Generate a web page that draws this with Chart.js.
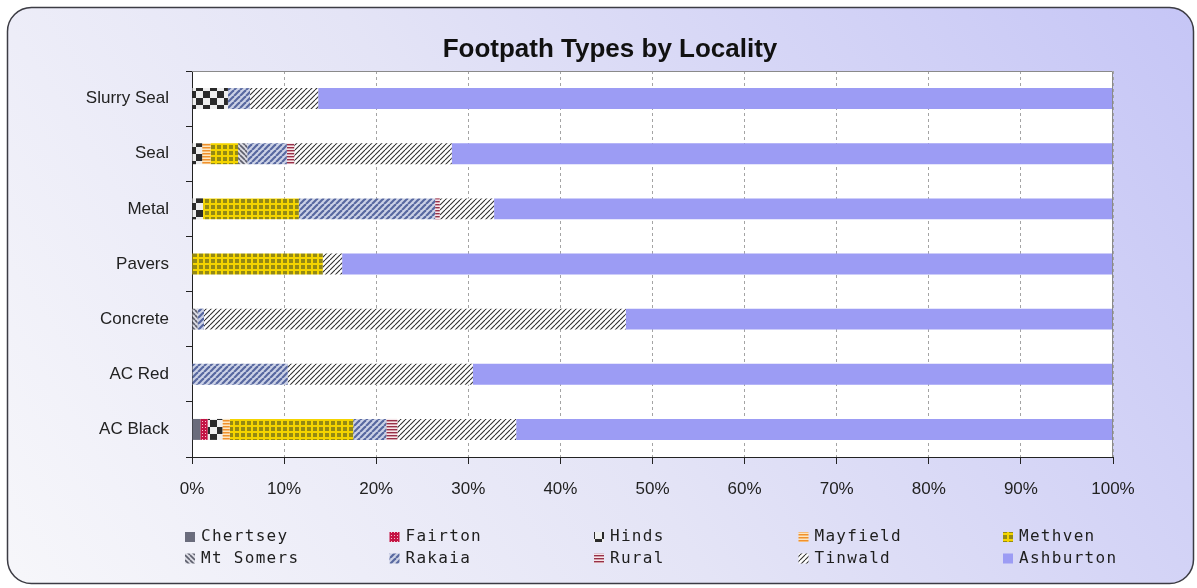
<!DOCTYPE html>
<html>
<head>
<meta charset="utf-8">
<title>Footpath Types by Locality</title>
<script src="https://cdn.jsdelivr.net/npm/chart.js@4.4.1/dist/chart.umd.min.js"></script>
<style>
  html, body { margin: 0; padding: 0; background: #ffffff; }
  #wrap { width: 1197px; height: 588px; position: relative; }
</style>
</head>
<body>
<div id="wrap"><canvas id="chart"></canvas></div>
<script>
// Footpath surface types, share (%) of length by locality
const categories = ['Slurry Seal', 'Seal', 'Metal', 'Pavers', 'Concrete', 'AC Red', 'AC Black'];
const seriesNames = ['Chertsey', 'Fairton', 'Hinds', 'Mayfield', 'Methven', 'Mt Somers', 'Rakaia', 'Rural', 'Tinwald', 'Ashburton'];

const chertsey  = [0,    0,    0,    0,    0,    0,    0.9];
const fairton   = [0,    0,    0,    0,    0,    0,    0.8];
const hinds     = [3.9,  1.1,  1.2,  0,    0,    0,    1.6];
const mayfield  = [0,    0.9,  0,    0,    0,    0,    0.8];
const methven   = [0,    3.0,  10.4, 14.2, 0,    0,    13.4];
const mtSomers  = [0,    1.0,  0,    0,    0.6,  0,    0];
const rakaia    = [2.4,  4.3,  14.8, 0,    0.7,  10.4, 3.6];
const rural     = [0,    0.8,  0.5,  0,    0,    0,    1.2];
const tinwald   = [7.4,  17.1, 5.9,  2.1,  45.8, 20.1, 12.9];
const ashburton = [86.3, 71.8, 67.2, 83.7, 52.9, 69.5, 64.8];

const xTicks = [0, 10, 20, 30, 40, 50, 60, 70, 80, 90, 100];

// ---- fill patterns -------------------------------------------------------
function tile(w, h, paint) {
  const c = document.createElement('canvas');
  c.width = w; c.height = h;
  const g = c.getContext('2d');
  paint(g, w, h);
  return g.createPattern(c, 'repeat');
}
function diag(g, w, h, color, width, back) {
  g.strokeStyle = color; g.lineWidth = width;
  for (let k = -1; k <= 1; k++) {
    g.beginPath();
    if (back) { g.moveTo(k * w, 0); g.lineTo(k * w + w, h); }
    else { g.moveTo(k * w, h); g.lineTo(k * w + w, 0); }
    g.stroke();
  }
}

const fills = {
  Chertsey: '#6a6c7c',
  Fairton: tile(3, 3, (g) => {
    g.fillStyle = '#c41444'; g.fillRect(0, 0, 3, 3);
    g.fillStyle = '#f4c0cc'; g.fillRect(1, 1, 1, 1);
  }),
  Hinds: tile(14, 14, (g) => {
    g.fillStyle = '#eeeeee'; g.fillRect(0, 0, 14, 14);
    g.fillStyle = '#2a2a2a'; g.fillRect(0, 0, 7, 7); g.fillRect(7, 7, 7, 7);
  }),
  Mayfield: tile(3, 3, (g) => {
    g.fillStyle = '#fce6c0'; g.fillRect(0, 0, 3, 3);
    g.fillStyle = '#f0902c'; g.fillRect(0, 0, 3, 1.5);
  }),
  Methven: tile(6, 6, (g) => {
    g.fillStyle = '#f4d400'; g.fillRect(0, 0, 6, 6);
    g.fillStyle = '#948a14'; g.fillRect(1, 1, 4, 4);
  }),
  'Mt Somers': tile(5, 5, (g, w, h) => {
    g.fillStyle = '#dcdce4'; g.fillRect(0, 0, w, h);
    diag(g, w, h, '#5c5e6c', 1.6, true);
  }),
  Rakaia: tile(6, 6, (g, w, h) => {
    g.fillStyle = '#ccd2e6'; g.fillRect(0, 0, w, h);
    diag(g, w, h, '#5868a0', 2.2, false);
  }),
  Rural: tile(3, 3, (g) => {
    g.fillStyle = '#f6e6ea'; g.fillRect(0, 0, 3, 3);
    g.fillStyle = '#983048'; g.fillRect(0, 0, 3, 1.4);
  }),
  Tinwald: tile(5, 5, (g, w, h) => {
    g.fillStyle = '#ffffff'; g.fillRect(0, 0, w, h);
    diag(g, w, h, '#2e2e2e', 1.1, false);
  }),
  Ashburton: '#9c9cf4'
};

const seriesData = [chertsey, fairton, hinds, mayfield, methven, mtSomers, rakaia, rural, tinwald, ashburton];

const datasets = seriesNames.map((name, i) => ({
  label: name,
  data: seriesData[i],
  backgroundColor: fills[name],
  borderWidth: 0,
  barPercentage: 0.38,
  categoryPercentage: 1.0
}));

// ---- frame, title and legend ----------------------------------------------
function roundRect(ctx, x, y, w, h, r) {
  ctx.beginPath();
  ctx.moveTo(x + r, y);
  ctx.lineTo(x + w - r, y);
  ctx.arcTo(x + w, y, x + w, y + r, r);
  ctx.lineTo(x + w, y + h - r);
  ctx.arcTo(x + w, y + h, x + w - r, y + h, r);
  ctx.lineTo(x + r, y + h);
  ctx.arcTo(x, y + h, x, y + h - r, r);
  ctx.lineTo(x, y + r);
  ctx.arcTo(x, y, x + r, y, r);
  ctx.closePath();
}

const framePlugin = {
  id: 'frame',
  beforeDraw(chart) {
    const { ctx, chartArea: a, width, height } = chart;
    ctx.save();
    ctx.fillStyle = '#ffffff';
    ctx.fillRect(0, 0, width, height);
    const grad = ctx.createLinearGradient(60, 640, 1140, -60);
    grad.addColorStop(0, '#f6f6fa');
    grad.addColorStop(0.45, '#e4e4f6');
    grad.addColorStop(1, '#c6c6f6');
    roundRect(ctx, 7.5, 7.5, 1186, 576, 24);
    ctx.fillStyle = grad;
    ctx.fill();
    ctx.lineWidth = 1.5;
    ctx.strokeStyle = '#3c3c44';
    ctx.stroke();
    ctx.fillStyle = '#ffffff';
    ctx.fillRect(a.left, a.top, a.right - a.left, a.bottom - a.top);
    ctx.restore();
  },
  afterDatasetsDraw(chart) {
    const { ctx, chartArea: a } = chart;
    ctx.save();
    ctx.strokeStyle = '#8a8a8a';
    ctx.lineWidth = 1;
    ctx.beginPath();
    ctx.moveTo(a.left, a.top + 0.5);
    ctx.lineTo(a.right - 0.5, a.top + 0.5);
    ctx.lineTo(a.right - 0.5, a.bottom);
    ctx.stroke();
    ctx.restore();
  },
  afterDraw(chart) {
    const { ctx } = chart;
    ctx.save();
    // title
    ctx.fillStyle = '#111111';
    ctx.font = 'bold 26px "Liberation Sans", Arial, sans-serif';
    ctx.textAlign = 'center';
    ctx.textBaseline = 'alphabetic';
    ctx.fillText('Footpath Types by Locality', 610, 57);

    // legend: 5 columns x 2 rows
    ctx.font = '16px "DejaVu Sans Mono", monospace';
    if ('letterSpacing' in ctx) ctx.letterSpacing = '1.3px';
    ctx.textAlign = 'left';
    ctx.textBaseline = 'middle';
    chart.data.datasets.forEach((ds, i) => {
      const col = i % 5, row = Math.floor(i / 5);
      const x = 185 + col * 204.5;
      const y = 537 + row * 21.5;
      ctx.fillStyle = ds.backgroundColor;
      ctx.fillRect(x, y - 5, 10, 10);
      ctx.fillStyle = '#1e1e1e';
      ctx.fillText(ds.label, x + 16, y);
    });
    ctx.restore();
  }
};

const tickFont = { family: '"Liberation Sans", Arial, sans-serif', size: 17 };

new Chart(document.getElementById('chart'), {
  type: 'bar',
  data: { labels: categories, datasets },
  plugins: [framePlugin],
  options: {
    indexAxis: 'y',
    responsive: true,
    maintainAspectRatio: false,
    animation: false,
    layout: { padding: { top: 71, right: 84, bottom: 86, left: 0 } },
    plugins: {
      legend: { display: false },
      title: { display: false },
      tooltip: { enabled: false }
    },
    scales: {
      x: {
        stacked: true,
        min: 0,
        max: 100,
        afterBuildTicks: (s) => { s.ticks = xTicks.map((v) => ({ value: v })); },
        afterFit: (s) => { s.height = 45; },
        ticks: {
          callback: (v) => v + '%',
          font: tickFont,
          color: '#222222',
          padding: 15,
          maxRotation: 0,
          autoSkip: false
        },
        grid: {
          color: '#a4a4a4',
          lineWidth: 1,
          tickColor: '#222222',
          tickLength: 7,
          tickBorderDash: []
        },
        border: { color: '#222222', width: 1, dash: [3, 3] }
      },
      y: {
        stacked: true,
        afterFit: (s) => { s.width = 192; },
        ticks: { font: tickFont, color: '#222222', padding: 17 },
        grid: {
          drawOnChartArea: false,
          offset: true,
          color: '#222222',
          tickLength: 6
        },
        border: { color: '#222222', width: 1 }
      }
    }
  }
});
</script>
</body>
</html>
